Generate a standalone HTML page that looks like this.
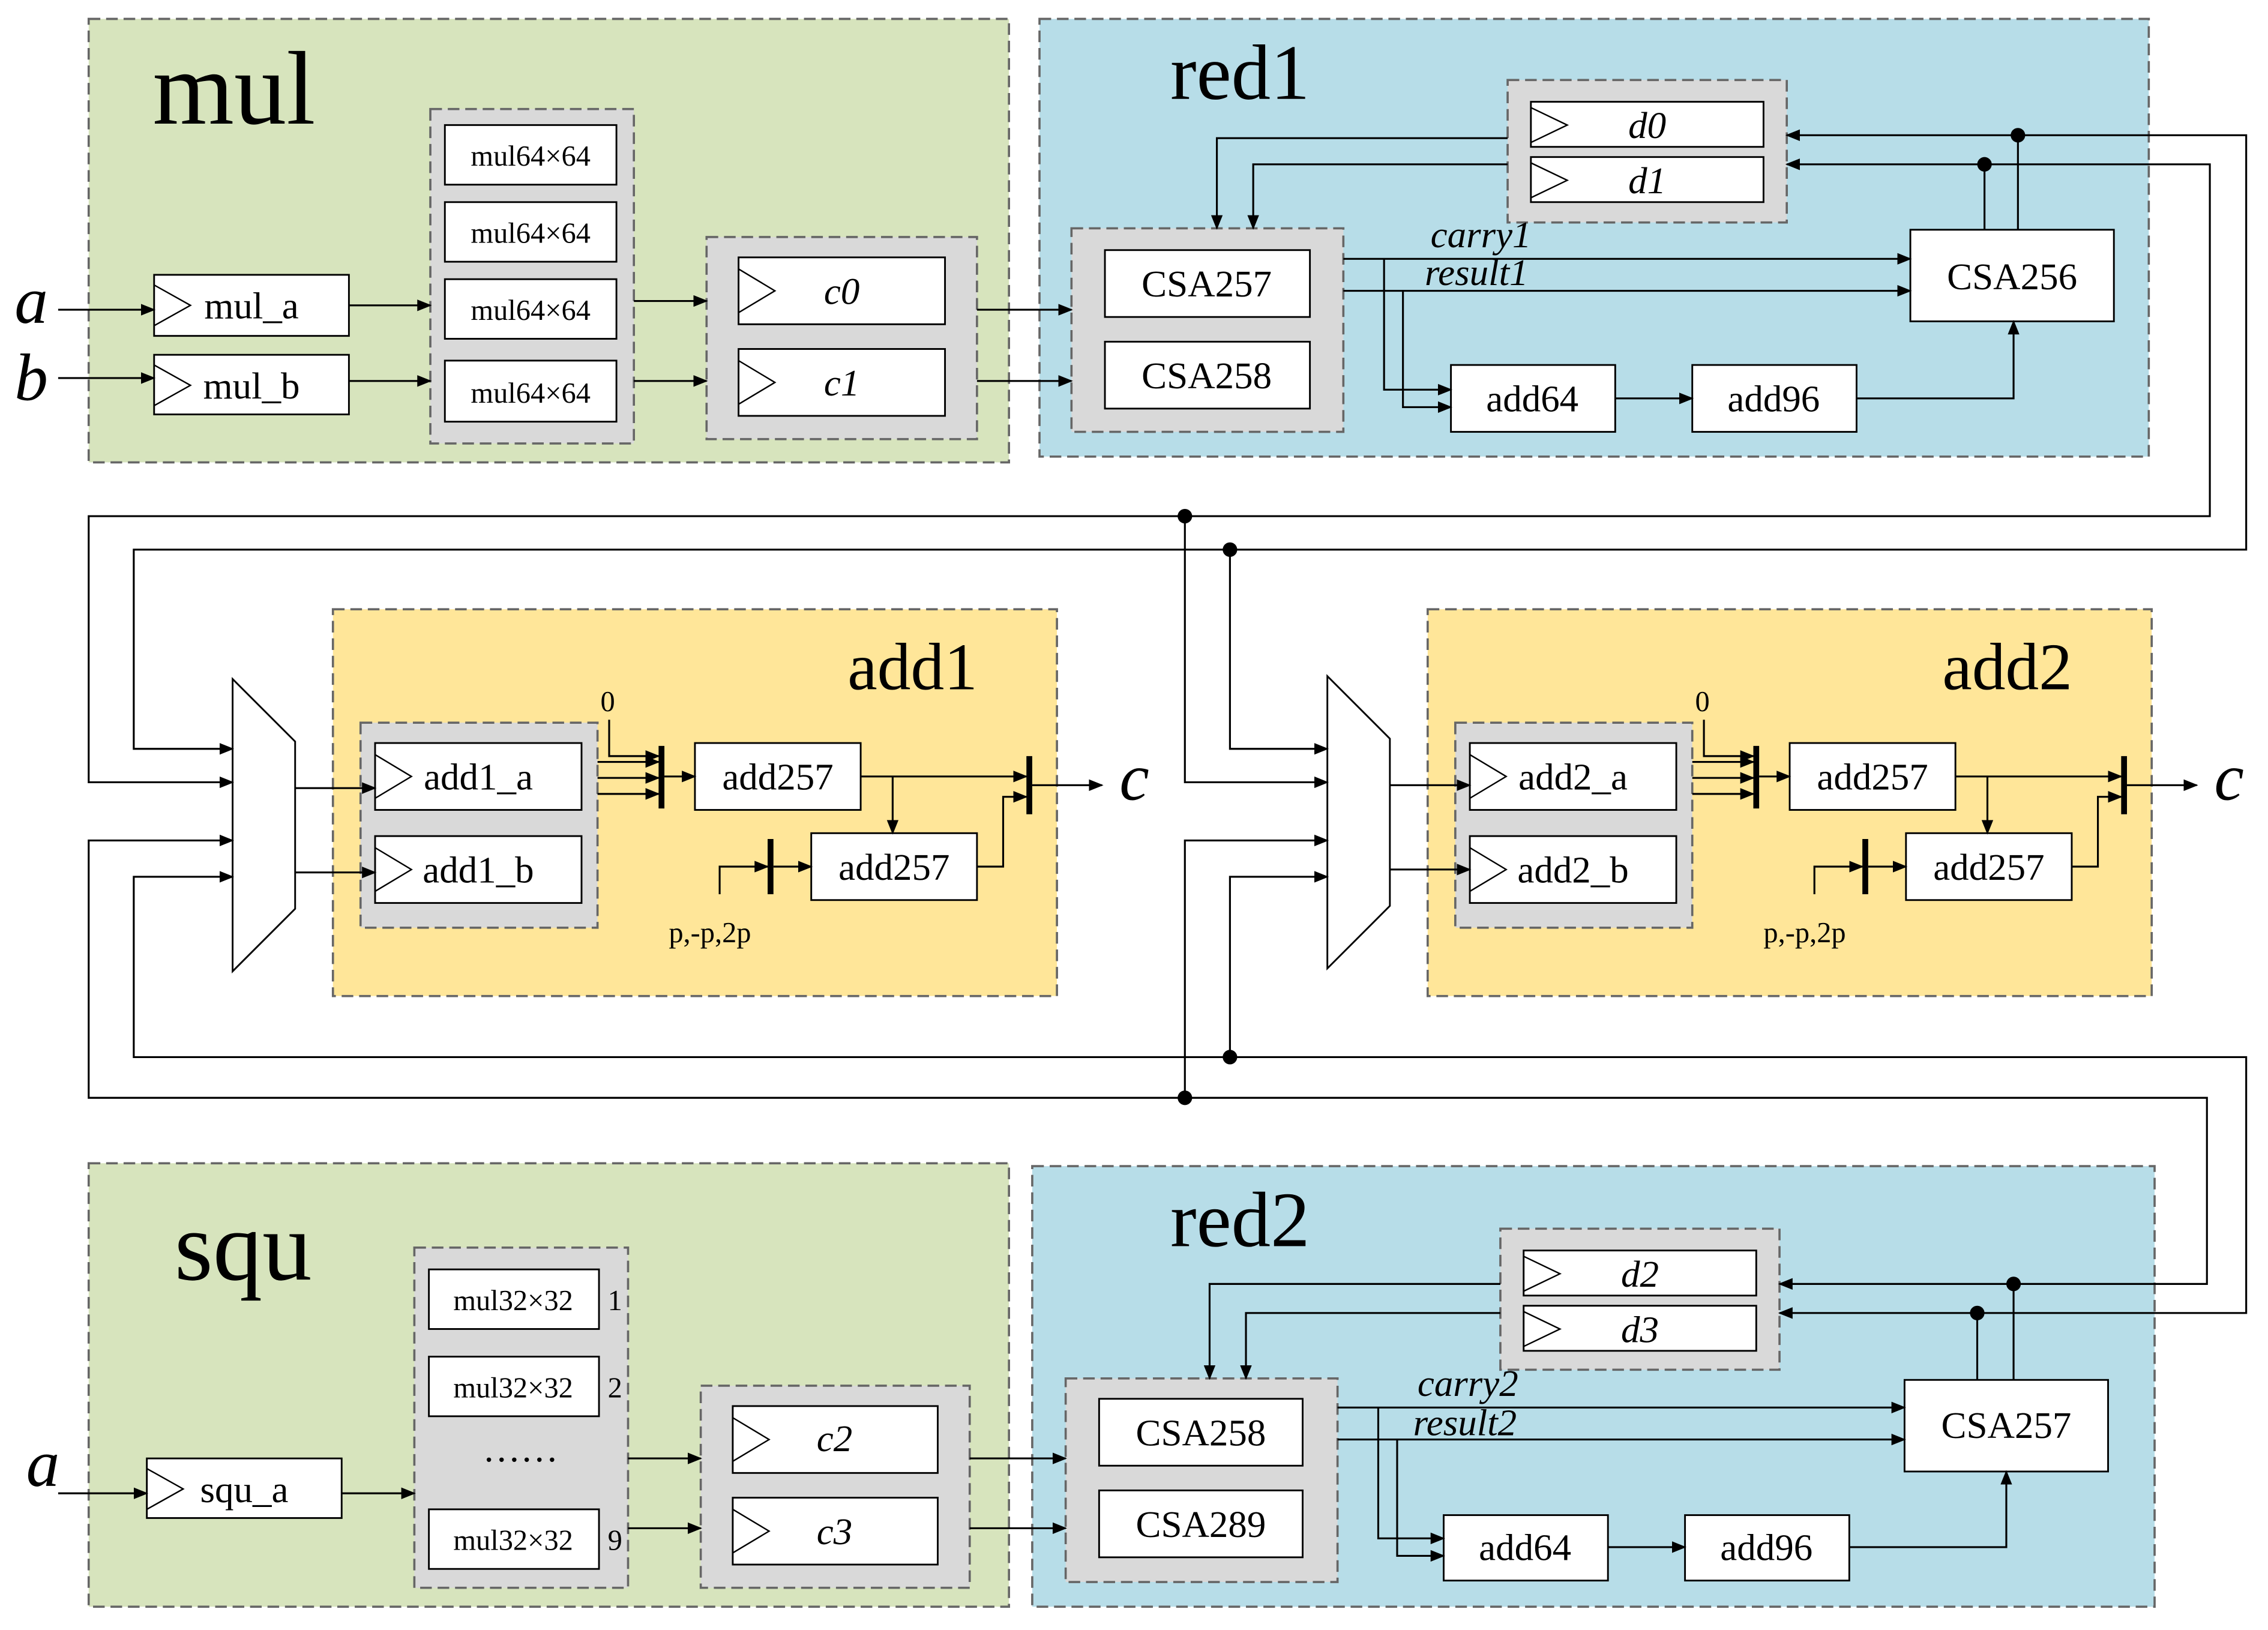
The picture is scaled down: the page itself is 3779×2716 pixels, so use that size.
<!DOCTYPE html>
<html><head><meta charset="utf-8"><style>html,body{margin:0;padding:0;background:#fff}svg{display:block}svg text{font-family:"Liberation Serif",serif}</style></head><body>
<svg width="3779" height="2716" viewBox="0 0 1560 1121" preserveAspectRatio="none" xmlns="http://www.w3.org/2000/svg" style="font-family:'Liberation Serif',serif">
<defs><marker id="a" markerWidth="10" markerHeight="8" refX="9" refY="4" orient="auto" markerUnits="userSpaceOnUse"><path d="M0,0L10,4L0,8z" fill="#000"/></marker></defs>
<g stroke="#666" stroke-dasharray="8,4" stroke-width="1.5">
<rect x="61" y="13" width="633" height="305" fill="#d7e4bd"/>
<rect x="715" y="13" width="763" height="301" fill="#b7dde8"/>
<rect x="229" y="419" width="498" height="266" fill="#ffe699"/>
<rect x="982" y="419" width="498" height="266" fill="#ffe699"/>
<rect x="61" y="800" width="633" height="305" fill="#d7e4bd"/>
<rect x="710" y="802" width="772" height="303" fill="#b7dde8"/>
<rect x="296" y="75" width="140" height="230" fill="#d9d9d9"/>
<rect x="486" y="163" width="186" height="139" fill="#d9d9d9"/>
<rect x="1037" y="55" width="192" height="98" fill="#d9d9d9"/>
<rect x="737" y="157" width="187" height="140" fill="#d9d9d9"/>
<rect x="248" y="497" width="163" height="141" fill="#d9d9d9"/>
<rect x="1001" y="497" width="163" height="141" fill="#d9d9d9"/>
<rect x="285" y="858" width="147" height="234" fill="#d9d9d9"/>
<rect x="482" y="953" width="185" height="139" fill="#d9d9d9"/>
<rect x="1032" y="845" width="192" height="97" fill="#d9d9d9"/>
<rect x="733" y="948" width="187" height="140" fill="#d9d9d9"/>
</g>
<g fill="#000">
<text x="105" y="85" font-size="72">mul</text>
<text x="805" y="68" font-size="54">red1</text>
<text x="583" y="474" font-size="46">add1</text>
<text x="1336" y="474" font-size="46">add2</text>
<text x="120" y="880" font-size="68">squ</text>
<text x="805" y="857" font-size="54">red2</text>
</g>
<g fill="#fff" stroke="#000" stroke-width="1.2">
<rect x="106" y="189" width="134" height="42"/><rect x="106" y="244" width="134" height="41"/>
<rect x="306" y="86" width="118" height="41"/><rect x="306" y="139" width="118" height="41"/><rect x="306" y="192" width="118" height="41"/><rect x="306" y="248" width="118" height="42"/>
<rect x="508" y="177" width="142" height="46"/><rect x="508" y="240" width="142" height="46"/>
<rect x="1053" y="70" width="160" height="31"/><rect x="1053" y="108" width="160" height="31"/>
<rect x="760" y="172" width="141" height="46"/><rect x="760" y="235" width="141" height="46"/>
<rect x="1314" y="158" width="140" height="63"/><rect x="998" y="251" width="113" height="46"/><rect x="1164" y="251" width="113" height="46"/>
<rect x="258" y="511" width="142" height="46"/><rect x="258" y="575" width="142" height="46"/>
<rect x="478" y="511" width="114" height="46"/><rect x="558" y="573" width="114" height="46"/>
<rect x="1011" y="511" width="142" height="46"/><rect x="1011" y="575" width="142" height="46"/>
<rect x="1231" y="511" width="114" height="46"/><rect x="1311" y="573" width="114" height="46"/>
<rect x="101" y="1003" width="134" height="41"/>
<rect x="295" y="873" width="117" height="41"/><rect x="295" y="933" width="117" height="41"/><rect x="295" y="1038" width="117" height="41"/>
<rect x="504" y="967" width="141" height="46"/><rect x="504" y="1030" width="141" height="46"/>
<rect x="1048" y="860" width="160" height="31"/><rect x="1048" y="898" width="160" height="31"/>
<rect x="756" y="962" width="140" height="46"/><rect x="756" y="1025" width="140" height="46"/>
<rect x="1310" y="949" width="140" height="63"/><rect x="993" y="1042" width="113" height="45"/><rect x="1159" y="1042" width="113" height="45"/>
<polygon points="160,467 203,510 203,625 160,668"/><polygon points="913,465 956,508 956,623 913,666"/>
</g>
<g fill="none" stroke="#000" stroke-width="1">
<path d="M106,196l25,14l-25,14M106,251l25,14l-25,14M508,185l25,15l-25,15M508,248l25,15l-25,15M1053,74l25,12l-25,12M1053,112l25,12l-25,12M258,519l25,15l-25,15M258,583l25,15l-25,15M1011,519l25,15l-25,15M1011,583l25,15l-25,15M101,1010l25,14l-25,14M504,975l25,15l-25,15M504,1038l25,15l-25,15M1048,864l25,12l-25,12M1048,902l25,12l-25,12"/>
</g>
<g font-size="26" text-anchor="middle" fill="#000">
<text x="173" y="219">mul_a</text><text x="173" y="274">mul_b</text>
<text x="365" y="114" font-size="20">mul64×64</text><text x="365" y="167" font-size="20">mul64×64</text><text x="365" y="220" font-size="20">mul64×64</text><text x="365" y="277" font-size="20">mul64×64</text>
<text x="579" y="209" font-style="italic">c0</text><text x="579" y="272" font-style="italic">c1</text>
<text x="1133" y="95" font-style="italic">d0</text><text x="1133" y="133" font-style="italic">d1</text>
<text x="830" y="204">CSA257</text><text x="830" y="267">CSA258</text><text x="1384" y="199">CSA256</text>
<text x="1054" y="283">add64</text><text x="1220" y="283">add96</text>
<text x="329" y="543">add1_a</text><text x="329" y="607">add1_b</text>
<text x="535" y="543">add257</text><text x="615" y="605">add257</text>
<text x="1082" y="543">add2_a</text><text x="1082" y="607">add2_b</text>
<text x="1288" y="543">add257</text><text x="1368" y="605">add257</text>
<text x="168" y="1033">squ_a</text>
<text x="353" y="901" font-size="20">mul32×32</text><text x="353" y="961" font-size="20">mul32×32</text><text x="353" y="1066" font-size="20">mul32×32</text>
<text x="358" y="1005">……</text>
<text x="574" y="998" font-style="italic">c2</text><text x="574" y="1062" font-style="italic">c3</text>
<text x="1128" y="885" font-style="italic">d2</text><text x="1128" y="923" font-style="italic">d3</text>
<text x="826" y="994">CSA258</text><text x="826" y="1057">CSA289</text><text x="1380" y="989">CSA257</text>
<text x="1049" y="1073">add64</text><text x="1215" y="1073">add96</text>
</g>
<g font-size="20" fill="#000">
<text x="418" y="901">1</text><text x="418" y="961">2</text><text x="418" y="1066">9</text>
<text x="413" y="489">0</text><text x="1166" y="489">0</text>
<text x="460" y="648">p,-p,2p</text><text x="1213" y="648">p,-p,2p</text>
</g>
<g font-size="26" font-style="italic" fill="#000">
<text x="984" y="170">carry1</text><text x="980" y="196">result1</text>
<text x="975" y="960">carry2</text><text x="972" y="987">result2</text>
</g>
<g font-size="46" font-style="italic" fill="#000">
<text x="10" y="222">a</text><text x="10" y="275">b</text><text x="18" y="1022">a</text>
<text x="770" y="550">c</text><text x="1523" y="550">c</text>
</g>
<g fill="none" stroke="#000" stroke-width="1.3" marker-end="url(#a)">
<path d="M40,213H106"/><path d="M40,260H106"/><path d="M240,210H296"/><path d="M240,262H296"/>
<path d="M436,207H486"/><path d="M436,262H486"/><path d="M672,213H737"/><path d="M672,262H737"/>
<path d="M1037,95H837V157"/><path d="M1037,113H862V157"/>
<path d="M924,178H1314"/><path d="M924,200H1314"/>
<path d="M952,178V268H998"/><path d="M965,200V280H998"/>
<path d="M1111,274H1164"/><path d="M1277,274H1385V221"/>
<path d="M1388,158V93H1229"/><path d="M1365,158V113H1229"/>
<path d="M1388,93H1545V378H92V515H160"/><path d="M1365,113H1520V355H61V538H160"/>
<path d="M815,355V538H913"/><path d="M846,378V515H913"/>
<path d="M1385,949V883H1224"/><path d="M1360,949V903H1224"/>
<path d="M1385,883H1518V755H61V578H160"/><path d="M1360,903H1545V727H92V603H160"/>
<path d="M815,755V578H913"/><path d="M846,727V603H913"/>
<path d="M1032,883H832V948"/><path d="M1032,903H857V948"/>
<path d="M920,968H1310"/><path d="M920,990H1310"/>
<path d="M948,968V1058H993"/><path d="M961,990V1070H993"/>
<path d="M1106,1064H1159"/><path d="M1272,1064H1380V1012"/>
<path d="M40,1027H101"/><path d="M235,1027H285"/><path d="M432,1003H482"/><path d="M432,1051H482"/>
<path d="M667,1003H733"/><path d="M667,1051H733"/>
<path d="M203,542H258"/><path d="M203,600H258"/><path d="M956,540H1011"/><path d="M956,598H1011"/>
<path d="M411,524H453"/><path d="M411,535H453"/><path d="M411,546H453"/><path d="M419,495V520H453"/>
<path d="M457,534H478"/><path d="M592,534H706"/><path d="M614,534V573"/><path d="M672,596H690V548H706"/>
<path d="M495,615V596H528"/><path d="M532,596H558"/><path d="M710,540H758"/>
<path d="M1164,524H1206"/><path d="M1164,535H1206"/><path d="M1164,546H1206"/><path d="M1172,495V520H1206"/>
<path d="M1210,534H1231"/><path d="M1345,534H1459"/><path d="M1367,534V573"/><path d="M1425,596H1443V548H1459"/>
<path d="M1248,615V596H1281"/><path d="M1285,596H1311"/><path d="M1463,540H1511"/>
</g>
<g stroke="#000" stroke-width="4">
<path d="M455,513V556M708,520V560M530,577V615M1208,513V556M1461,520V560M1283,577V615"/>
</g>
<g fill="#000">
<circle cx="1388" cy="93" r="5"/><circle cx="1365" cy="113" r="5"/><circle cx="815" cy="355" r="5"/><circle cx="846" cy="378" r="5"/>
<circle cx="815" cy="755" r="5"/><circle cx="846" cy="727" r="5"/><circle cx="1385" cy="883" r="5"/><circle cx="1360" cy="903" r="5"/>
</g>
</svg>
</body></html>
